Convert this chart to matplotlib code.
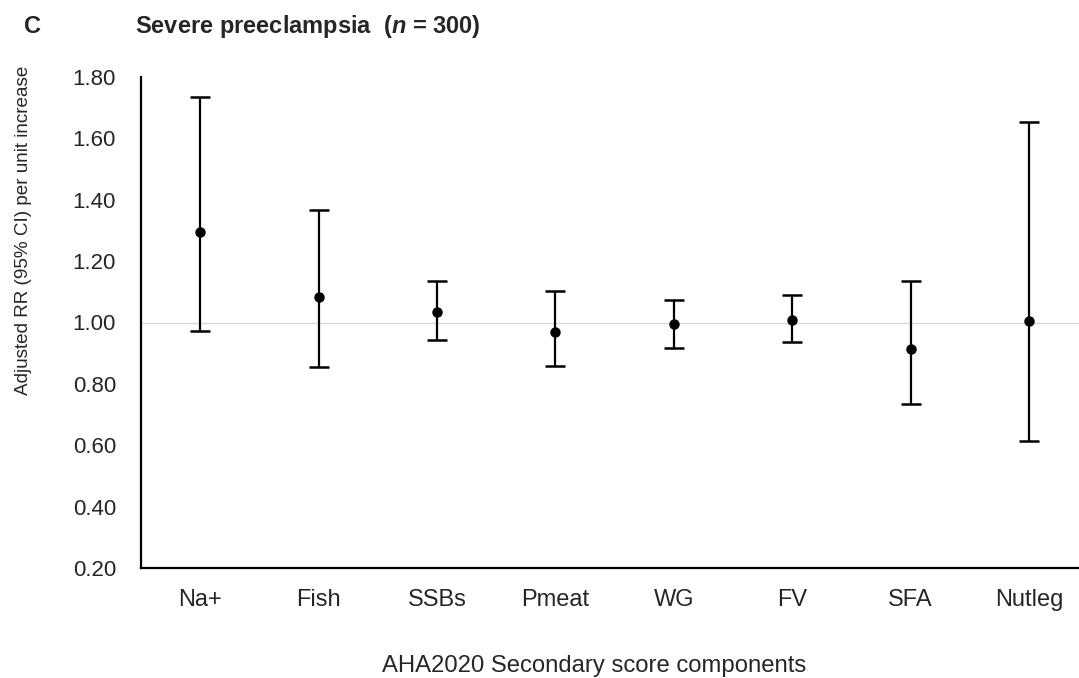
import matplotlib
matplotlib.use("Agg")
import matplotlib.pyplot as plt
import numpy as np

categories = ["Na+", "Fish", "SSBs", "Pmeat", "WG", "FV", "SFA", "Nutleg"]
rr = [1.295, 1.082, 1.033, 0.969, 0.995, 1.008, 0.913, 1.005]
lower = [0.971, 0.856, 0.943, 0.858, 0.917, 0.937, 0.735, 0.614]
upper = [1.734, 1.367, 1.135, 1.103, 1.073, 1.090, 1.135, 1.653]
yticks = [0.20, 0.40, 0.60, 0.80, 1.00, 1.20, 1.40, 1.60, 1.80]

plt.rcParams['font.family'] = ['Liberation Sans', 'DejaVu Sans']
plt.rcParams['mathtext.fontset'] = 'custom'
plt.rcParams['mathtext.it'] = 'Liberation Sans:italic:bold'
plt.rcParams['mathtext.rm'] = 'Liberation Sans:bold'

fig = plt.figure(figsize=(10.79, 6.78), dpi=100)
ax = fig.add_axes([141/1079, 1 - 568/678, 1 - 141/1079, (568 - 77)/678])

x = np.arange(len(categories))
rr_a = np.array(rr)
yerr = np.vstack([rr_a - np.array(lower), np.array(upper) - rr_a])
ax.axhline(1.0, color="#d9d9d9", lw=1.0, zorder=0)
ax.errorbar(x, rr_a, yerr=yerr, fmt="o", color="black", ms=6.5,
            elinewidth=1.6, capsize=7, capthick=1.8, zorder=3)

ax.set_ylim(0.2, 1.8)
ax.set_xlim(-0.5, (1079 - 141) / 118.4 - 0.5)
ax.set_yticks(yticks)
ax.set_yticklabels([f"{v:.2f}" for v in yticks], fontsize=16, color="#262626")
ax.set_xticks(x)
ax.set_xticklabels(categories, fontsize=17, color="#262626")
ax.tick_params(axis="y", length=0, pad=18)
ax.tick_params(axis="x", length=0, pad=15)
for s in ["top", "right"]:
    ax.spines[s].set_visible(False)
for s in ["left", "bottom"]:
    ax.spines[s].set_linewidth(1.6)
    ax.spines[s].set_color("black")

fig.text(24/1079, 1 - 230/678, "Adjusted RR (95% CI) per unit increase",
         rotation=90, ha="center", va="center", fontsize=13.6, color="#262626")
fig.text(594/1079, 1 - 672/678, "AHA2020 Secondary score components",
         ha="center", va="baseline", fontsize=17.2, color="#262626")
fig.text(24/1079, 1 - 33/678, "C", ha="left", va="baseline", fontsize=17,
         fontweight="bold", color="#262626")
fig.text(135/1079, 1 - 33/678, r"Severe preeclampsia  ($\mathit{n}$ = 300)",
         ha="left", va="baseline", fontsize=17, fontweight="bold", color="#262626")

fig.savefig("out.png", dpi=100)
